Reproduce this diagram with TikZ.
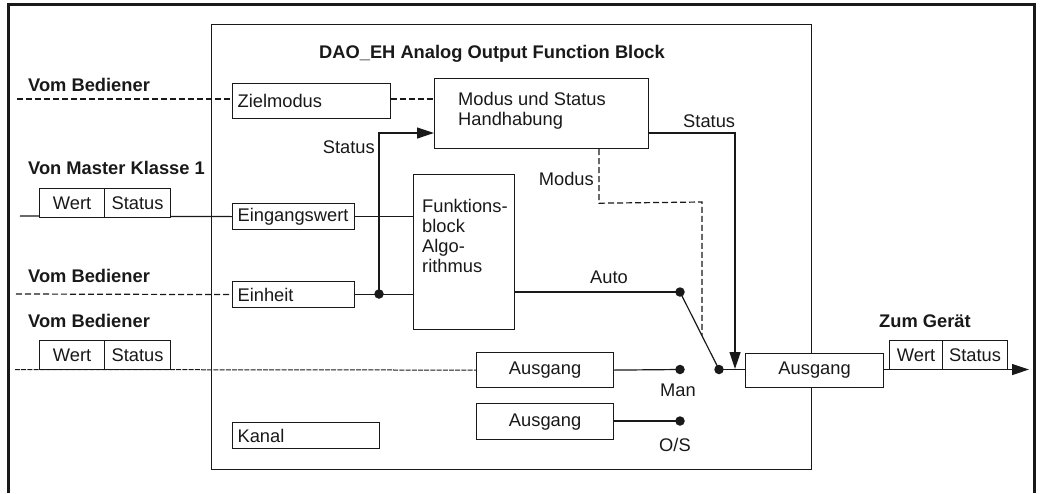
\documentclass[tikz,border=0pt]{standalone}
\usepackage{fontspec}
\setmainfont{Liberation Sans}
\usetikzlibrary{arrows.meta,calc}
\begin{document}
\begin{tikzpicture}[x=1pt,y=-1pt,
  font=\fontsize{18.3}{20.5}\selectfont,
  color=black!90,
  ln/.style={line width=1.2pt},
  dsh/.style={line width=1.2pt, dash pattern=on 6pt off 3pt},
  thdsh/.style={line width=1pt, dash pattern=on 5pt off 1.2pt},
  box/.style={draw, line width=1.2pt, fill=white, inner sep=0pt, anchor=north west},
  lbox/.style={box, align=left, inner xsep=5pt, inner ysep=0pt},
  cbox/.style={box, align=center},
  lbl/.style={inner sep=0pt, anchor=base west},
  blbl/.style={lbl, font=\fontsize{18.3}{20.5}\selectfont\bfseries},
  dot/.style={circle, fill=black!90, draw=none, inner sep=0pt, minimum size=9.5pt},
  arr/.style={-{Triangle[length=17pt,width=11pt]}},
]
\useasboundingbox (0,0) rectangle (1041,493);
% outer frame
\draw[line width=3pt] (8,493) -- (8,4) -- (1034,4) -- (1034,493);
% function block frame
\node[box, fill=none, minimum width=600, minimum height=445] (blk) at (211,24) {};
\node[blbl, anchor=base] (title) at (492,58) {DAO\_EH Analog Output Function Block};

% boxes
\node[lbox, text width=148, minimum height=35] (ziel) at (232,83) {Zielmodus};
\node[lbox, text width=112, minimum height=26] (eing) at (232,203) {Eingangswert};
\node[lbox, text width=112, minimum height=26] (einh) at (232,281) {Einheit};
\node[lbox, text width=137, minimum height=26] (kanal) at (232,422) {Kanal};
\node[box, minimum width=214, minimum height=70] (modus) at (434,78) {};
\node[lbl, anchor=north west, align=left, font=\fontsize{18.3}{20}\selectfont] (modust) at (458,92) {Modus und Status\\Handhabung};
\node[box, minimum width=101, minimum height=155] (fb) at (413,174) {};
\node[lbl, anchor=north west, align=left, font=\fontsize{18.3}{20}\selectfont] (fbt) at (422,199) {Funktions-\\block\\Algo-\\rithmus};
\node[cbox, minimum width=137, minimum height=35] (aus1) at (476,352) {Ausgang};
\node[cbox, minimum width=137, minimum height=36] (aus2) at (476,403) {Ausgang};

% dots
\node[dot] (jct) at (379,294) {};
\node[dot] (dauto) at (680,292) {};
\node[dot] (dman) at (680,369.5) {};
\node[dot] (dos) at (680,421) {};
\node[dot] (dsw) at (719,369.5) {};

% free ends
\coordinate (in1) at (17,99);
\coordinate (in2) at (20,216);
\coordinate (in3) at (16,294);
\coordinate (in4) at (15,369.5);
\coordinate (out) at (1029,369.5);

% connectors
\draw[dsh] (in1) -- (in1 -| ziel.west);
\draw[dsh] (ziel.east |- in1) -- (in1 -| modus.west);
\draw[ln] (in2) -- (eing.west);
\draw[ln] (eing.east) -- (eing.east -| fb.west);
\draw[dsh] (in3) -- (einh.west);
\draw[ln] (einh.east) -- (einh.east -| fb.west);
\draw[ln,arr] (jct.center) |- (modus.west |- 0,133);
\draw[thdsh] (in4) -- (aus1.west);
\draw[ln] (fb.east |- dauto) -- (dauto.center);
\draw[ln] (aus1.east) -- (dman.center);
\draw[ln] (aus2.east |- dos) -- (dos.center);
\draw[ln] (dauto.center) -- (dsw.center);
\draw[dsh] ([xshift=165pt]modus.south west) -- ++(0,54) -- (702,202)
  -- (intersection cs: first line={(dauto.center)--(dsw.center)}, second line={(702,202)--(702,400)});

% output block
\node[cbox, minimum width=138, minimum height=34] (aus3) at (745,352.5) {Ausgang};
\draw[ln] (dsw.center) -- (aus3.west |- dsw);
\draw[ln,arr] (modus.east |- 0,133) -| (735,369);
\draw[ln,arr] (aus3.east |- out) -- (out);

% value/status tags
\node[cbox, minimum width=65, minimum height=29] (w1) at (39,188) {Wert};
\node[cbox, minimum width=66, minimum height=29] (s1) at (104,188) {Status};
\node[cbox, minimum width=65, minimum height=29] (w2) at (39,340) {Wert};
\node[cbox, minimum width=66, minimum height=29] (s2) at (104,340) {Status};
\node[cbox, minimum width=53, minimum height=29] (w3) at (889,340) {Wert};
\node[cbox, minimum width=65, minimum height=29] (s3) at (942,340) {Status};

% labels
\node[blbl] (l1) at (28,91) {Vom Bediener};
\node[blbl] (l2) at (28,174) {Von Master Klasse 1};
\node[blbl] (l3) at (28,282) {Vom Bediener};
\node[blbl] (l4) at (28,327) {Vom Bediener};
\node[blbl] (l5) at (879,327) {Zum Gerät};
\node[lbl, anchor=base east] (st1) at (375,153) {Status};
\node[lbl] (st2) at (683,127) {Status};
\node[lbl, anchor=base east] (mo) at (594,185) {Modus};
\node[lbl] (au) at (590,283) {Auto};
\node[lbl] (ma) at (660,396) {Man};
\node[lbl] (os) at (659,451) {O/S};
\end{tikzpicture}
\end{document}
